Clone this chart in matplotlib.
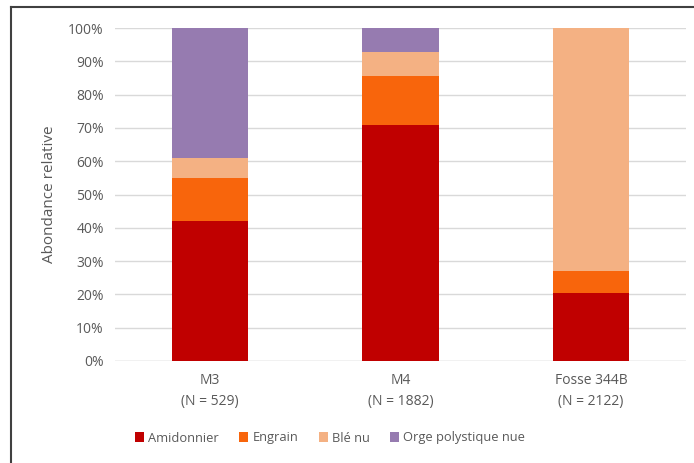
import matplotlib
matplotlib.use("Agg")
from matplotlib import pyplot as plt
from matplotlib.lines import Line2D
from matplotlib.ticker import PercentFormatter
import numpy as np

plt.rcParams['font.family'] = ['Open Sans', 'DejaVu Sans']

# data (percent)
sites = ['M3\n(N = 529)', 'M4\n(N = 1882)', 'Fosse 344B\n(N = 2122)']
amidonnier = [42.1, 70.9, 20.3]
engrain = [12.9, 14.6, 6.7]
ble_nu = [6.0, 7.2, 73.0]
orge = [39.0, 7.3, 0.0]

series = [('Amidonnier', amidonnier, '#c00000'),
          ('Engrain', engrain, '#f8650c'),
          ('Blé nu', ble_nu, '#f4b183'),
          ('Orge polystique nue', orge, '#967bb0')]

grey = '#595959'

fig = plt.figure(figsize=(6.94, 4.63), dpi=100)
ax = fig.add_axes([115/694, 1 - 361/463, (686 - 115)/694, 333/463])

x = np.arange(len(sites))
bottom = np.zeros(len(sites))
for name, vals, col in series:
    ax.bar(x, vals, width=0.4, bottom=bottom, color=col, label=name, zorder=3)
    bottom += np.array(vals)

ax.set_xlim(-0.5, len(sites) - 0.5)
ax.set_ylim(0, 100)
ax.set_yticks(np.arange(0, 101, 10))
ax.yaxis.set_major_formatter(PercentFormatter(decimals=0))
ax.set_xticks(x)
ax.set_xticklabels(sites, linespacing=1.5)
ax.tick_params(length=0, labelsize=10, colors=grey, pad=8)
ax.tick_params(axis='x', pad=9)
ax.grid(axis='y', color='#d9d9d9', lw=1, zorder=0)
for s in ax.spines.values():
    s.set_visible(False)
ax.axhline(0, color='#d9d9d9', lw=1, zorder=2)
ax.set_ylabel('Abondance relative', fontsize=11, color=grey, labelpad=8)

fig.legend(loc='center', bbox_to_anchor=(330/694, 1 - 438/463), ncol=4,
           frameon=False, fontsize=9.3, labelcolor=grey, handlelength=0.7,
           handleheight=0.7, handletextpad=0.3, columnspacing=1.6)

# dark frame on left and top
fig.add_artist(Line2D([11/694, 11/694], [0, 1 - 7/463], color='#404040', lw=1.5))
fig.add_artist(Line2D([11/694, 1], [1 - 7/463, 1 - 7/463], color='#404040', lw=1.5))

fig.savefig('out.png', dpi=100)
